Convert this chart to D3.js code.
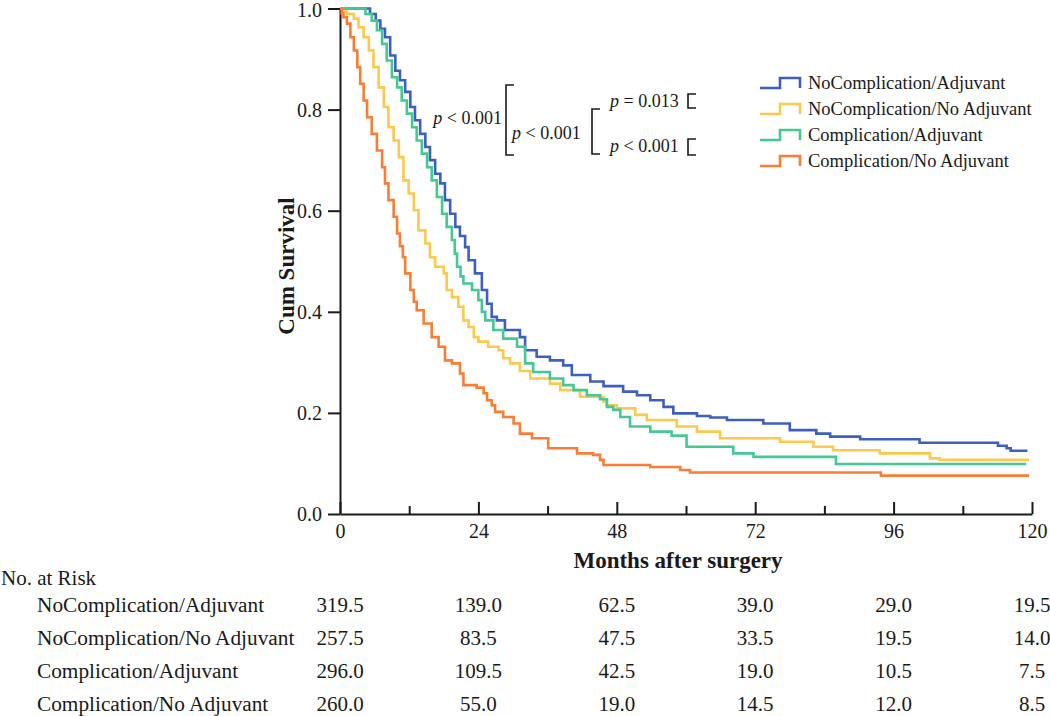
<!DOCTYPE html>
<html>
<head>
<meta charset="utf-8">
<script src="https://cdn.jsdelivr.net/npm/d3@7"></script>
<style>
  html, body { margin: 0; padding: 0; background: #fff; }
  svg { display: block; }
  text { font-family: "Liberation Serif", "Times New Roman", serif; fill: #1a1a1a; }
</style>
</head>
<body>
<svg id="chart" width="1050" height="716"></svg>
<script>
// ---------------- data ----------------
const groups = ["NoComplication/Adjuvant", "NoComplication/No Adjuvant", "Complication/Adjuvant", "Complication/No Adjuvant"];
const colors = ["#3f5fbf", "#fdc94c", "#44c995", "#fb7d33"];

// Kaplan-Meier steps: [month, cumulative survival]
const survNoCompAdj = [[0,1.0],[5.2,0.989],[6.2,0.976],[7.0,0.960],[7.8,0.943],[8.7,0.907],[9.6,0.877],[10.4,0.858],[11.3,0.835],[12.2,0.805],[13.0,0.779],[13.9,0.752],[14.8,0.726],[15.6,0.700],[16.5,0.673],[17.4,0.654],[18.2,0.621],[19.1,0.594],[20.0,0.568],[20.8,0.550],[21.7,0.528],[22.3,0.502],[23.4,0.476],[24.6,0.443],[25.5,0.416],[26.3,0.390],[27.2,0.383],[28.6,0.364],[31.2,0.350],[32.1,0.324],[34.1,0.311],[36.4,0.304],[38.7,0.294],[40.2,0.275],[43.4,0.262],[45.7,0.253],[49.1,0.242],[51.5,0.235],[53.8,0.225],[56.1,0.212],[57.8,0.199],[61.9,0.194],[64.2,0.191],[67.1,0.186],[73.4,0.179],[78.0,0.166],[82.6,0.159],[85.0,0.153],[90.2,0.148],[100.5,0.141],[114.1,0.135],[115.6,0.130],[116.3,0.125],[119.2,0.125]];
const survNoCompNoAdj = [[0,1.0],[0.6,0.994],[1.2,0.989],[2.4,0.980],[3.2,0.963],[4.1,0.943],[5.0,0.917],[5.8,0.884],[6.7,0.844],[7.6,0.805],[8.4,0.765],[9.3,0.739],[10.2,0.706],[11.0,0.660],[11.9,0.634],[12.8,0.601],[13.6,0.561],[14.8,0.535],[15.6,0.508],[16.5,0.489],[18.0,0.476],[18.5,0.443],[19.4,0.429],[20.5,0.410],[21.4,0.383],[22.3,0.370],[23.2,0.350],[24.0,0.341],[25.7,0.331],[27.5,0.324],[28.3,0.308],[29.5,0.298],[31.2,0.283],[33.0,0.268],[36.4,0.258],[38.2,0.245],[41.6,0.232],[45.7,0.222],[46.2,0.215],[48.0,0.209],[51.2,0.196],[53.2,0.186],[58.4,0.173],[61.9,0.163],[65.9,0.150],[76.3,0.143],[82.1,0.133],[85.5,0.126],[93.6,0.120],[102.3,0.110],[104.0,0.107],[119.5,0.107]];
const survCompAdj = [[0,1.0],[4.4,0.989],[5.5,0.976],[6.4,0.957],[7.3,0.930],[8.1,0.897],[9.0,0.864],[9.9,0.844],[10.7,0.818],[11.6,0.792],[12.5,0.765],[13.3,0.739],[14.2,0.713],[15.1,0.686],[15.9,0.660],[16.8,0.627],[17.7,0.594],[18.5,0.568],[19.4,0.542],[19.9,0.515],[20.3,0.489],[20.9,0.470],[21.4,0.456],[22.9,0.443],[24.0,0.423],[24.6,0.400],[25.2,0.383],[26.6,0.364],[28.3,0.347],[30.7,0.331],[32.1,0.298],[33.5,0.281],[36.4,0.268],[38.7,0.255],[40.5,0.245],[42.8,0.235],[45.1,0.227],[46.3,0.212],[47.4,0.206],[48.6,0.192],[50.3,0.173],[53.8,0.163],[57.5,0.155],[60.1,0.133],[68.2,0.120],[71.7,0.113],[86.0,0.099],[119.0,0.099]];
const survCompNoAdj = [[0,1.0],[0.3,0.990],[0.6,0.983],[1.2,0.970],[1.8,0.943],[2.4,0.917],[3.0,0.884],[3.5,0.851],[4.1,0.818],[4.7,0.785],[5.5,0.752],[6.4,0.719],[7.3,0.686],[7.8,0.654],[8.4,0.621],[9.3,0.588],[9.9,0.555],[10.4,0.530],[10.9,0.508],[11.3,0.476],[12.2,0.443],[12.8,0.420],[13.3,0.403],[14.5,0.377],[15.9,0.350],[17.1,0.331],[18.2,0.304],[19.4,0.298],[20.8,0.278],[21.4,0.255],[23.7,0.250],[24.9,0.239],[25.5,0.225],[26.3,0.215],[26.9,0.202],[28.3,0.192],[30.1,0.179],[31.2,0.159],[33.3,0.150],[36.1,0.130],[41.1,0.120],[43.9,0.117],[45.1,0.107],[45.7,0.097],[53.8,0.093],[59.0,0.087],[60.7,0.082],[93.8,0.076],[119.5,0.076]];
const curves = [survNoCompAdj, survNoCompNoAdj, survCompAdj, survCompNoAdj];

const xMajorTicks = [0, 24, 48, 72, 96, 120];
const xMinorTicks = [12, 36, 60, 84, 108];
const yTicks = [0, 0.2, 0.4, 0.6, 0.8, 1.0];

const riskTimes = [0, 24, 48, 72, 96, 120];
const riskNoCompAdj = [319.5, 139.0, 62.5, 39.0, 29.0, 19.5];
const riskNoCompNoAdj = [257.5, 83.5, 47.5, 33.5, 19.5, 14.0];
const riskCompAdj = [296.0, 109.5, 42.5, 19.0, 10.5, 7.5];
const riskCompNoAdj = [260.0, 55.0, 19.0, 14.5, 12.0, 8.5];
const riskRows = [riskNoCompAdj, riskNoCompNoAdj, riskCompAdj, riskCompNoAdj];

const pLabels = [
  {sym: "<", val: "0.001"},
  {sym: "<", val: "0.001"},
  {sym: "=", val: "0.013"},
  {sym: "<", val: "0.001"}
];

// ---------------- layout ----------------
const svg = d3.select("#chart");
const x = d3.scaleLinear().domain([0, 120]).range([340, 1032]);
const y = d3.scaleLinear().domain([0, 1]).range([514, 8.5]);
const ink = "#1a1a1a";

// Y axis
const yAxis = d3.axisLeft(y).tickValues(yTicks).tickSize(12).tickSizeOuter(0).tickPadding(6).tickFormat(d3.format(".1f"));
const gy = svg.append("g").attr("transform", `translate(${x(0)},0)`).call(yAxis);
gy.selectAll("path.domain").attr("stroke", ink).attr("stroke-width", 2);
gy.selectAll(".tick line").attr("stroke", ink).attr("stroke-width", 2);
gy.selectAll(".tick text").attr("font-size", 20).attr("font-family", "Liberation Serif, serif").attr("fill", ink)
  .attr("dy", d => d === 1 ? "0.42em" : "0.32em");

// X axis (ticks pointing inward)
const xAxis = d3.axisBottom(x).tickValues(xMajorTicks).tickSize(-12).tickSizeOuter(0).tickPadding(10).tickFormat(d3.format("d"));
const gx = svg.append("g").attr("transform", `translate(0,${y(0)})`).call(xAxis);
gx.selectAll("path.domain").attr("stroke", ink).attr("stroke-width", 2);
gx.selectAll(".tick line").attr("stroke", ink).attr("stroke-width", 2);
gx.selectAll(".tick text").attr("font-size", 20).attr("font-family", "Liberation Serif, serif").attr("fill", ink);

const xMinor = d3.axisBottom(x).tickValues(xMinorTicks).tickSize(-8).tickSizeOuter(0).tickFormat("");
const gxm = svg.append("g").attr("transform", `translate(0,${y(0)})`).call(xMinor);
gxm.select("path.domain").remove();
gxm.selectAll(".tick line").attr("stroke", ink).attr("stroke-width", 2);

// Axis titles
svg.append("text")
  .attr("x", 678).attr("y", 568)
  .attr("text-anchor", "middle")
  .attr("font-size", 23).attr("font-weight", "bold")
  .text("Months after surgery");
svg.append("text")
  .attr("transform", "translate(294,266) rotate(-90)")
  .attr("text-anchor", "middle")
  .attr("font-size", 23).attr("font-weight", "bold")
  .text("Cum Survival");

// Curves
const line = d3.line().x(d => x(d[0])).y(d => y(d[1])).curve(d3.curveStepAfter);
svg.append("g").selectAll("path.km")
  .data(curves)
  .join("path")
  .attr("class", "km")
  .attr("d", line)
  .attr("fill", "none")
  .attr("stroke", (d, i) => colors[i])
  .attr("stroke-width", 2.6)
  .attr("stroke-linejoin", "miter");

// Legend
const legend = svg.append("g");
const legRowY = [83, 109, 135, 161];
groups.forEach((g, i) => {
  const cy = legRowY[i];
  legend.append("path")
    .attr("d", `M760,${cy + 5}H780V${cy - 5}H800V${cy + 5}`)
    .attr("fill", "none").attr("stroke", colors[i]).attr("stroke-width", 2.6);
  legend.append("text")
    .attr("x", 808).attr("y", cy).attr("dy", "0.34em")
    .attr("font-size", 18.5)
    .text(g);
});

// p-value annotations
const pPos = [
  {x: 502, y: 124, anchor: "end"},
  {x: 512, y: 139, anchor: "start"},
  {x: 610, y: 107, anchor: "start"},
  {x: 610, y: 152, anchor: "start"}
];
pLabels.forEach((p, i) => {
  const t = svg.append("text")
    .attr("x", pPos[i].x).attr("y", pPos[i].y)
    .attr("text-anchor", pPos[i].anchor)
    .attr("font-size", 18);
  t.append("tspan").attr("font-style", "italic").text("p");
  t.append("tspan").text(` ${p.sym} ${p.val}`);
});
const brackets = [
  {x: 506, y0: 85, y1: 155},
  {x: 592, y0: 109, y1: 154},
  {x: 688, y0: 94, y1: 108},
  {x: 688, y0: 139, y1: 155}
];
svg.append("g").selectAll("path")
  .data(brackets)
  .join("path")
  .attr("d", b => `M${b.x + 8},${b.y0}H${b.x}V${b.y1}H${b.x + 8}`)
  .attr("fill", "none").attr("stroke", ink).attr("stroke-width", 1.6);

// Risk table
const fmt = d3.format(".1f");
svg.append("text").attr("x", 1).attr("y", 578).attr("dy", "0.34em")
  .attr("font-size", 21).text("No. at Risk");
const rowY = [605, 638, 671, 704];
riskRows.forEach((row, i) => {
  svg.append("text").attr("x", 37).attr("y", rowY[i]).attr("dy", "0.34em")
    .attr("font-size", 21.3).text(groups[i]);
  row.forEach((v, j) => {
    svg.append("text").attr("x", x(riskTimes[j])).attr("y", rowY[i]).attr("dy", "0.34em")
      .attr("text-anchor", "middle").attr("font-size", 21).text(fmt(v));
  });
});
</script>
</body>
</html>
